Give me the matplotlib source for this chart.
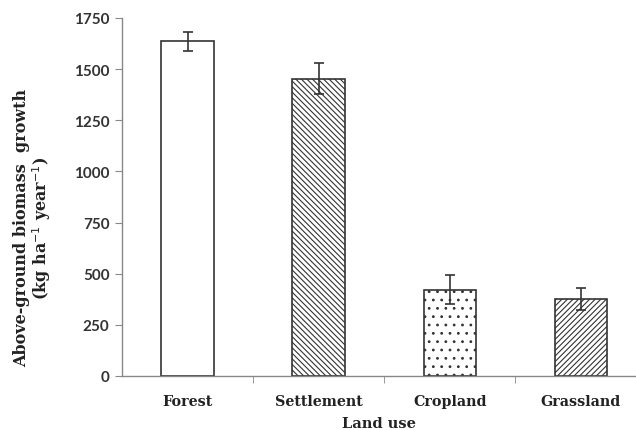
import matplotlib.pyplot as plt
import matplotlib as mpl

# data
landuse = ["Forest", "Settlement", "Cropland", "Grassland"]
biomass = [1636, 1453, 422, 376]
errors = [45, 75, 70, 55]
hatches = ["", "\\\\\\\\\\\\", "..", "//////"]
yticks = [0, 250, 500, 750, 1000, 1250, 1500, 1750]

mpl.rcParams['hatch.linewidth'] = 0.8
mpl.rcParams['hatch.color'] = '#333333'

fig = plt.figure(figsize=(6.36, 4.31), dpi=100)
ax = fig.add_axes([122 / 636, 1 - 377 / 431, (636 - 122) / 636, (377 - 19) / 431])

pos = list(range(len(landuse)))
bars = ax.bar(pos, biomass, width=0.4, color='white', edgecolor='#333333',
              linewidth=1.2, zorder=2)
for b, h in zip(bars, hatches):
    b.set_hatch(h)
ax.errorbar(pos, biomass, yerr=errors, fmt='none', ecolor='#333333',
            elinewidth=1.2, capsize=3.6, capthick=1.2, zorder=3)

ax.set_xlim(-0.5, 3.42)
ax.set_ylim(0, 1750)
ax.set_yticks(yticks)
ax.set_yticklabels([str(v) for v in yticks], fontfamily='Lato',
                   fontweight='bold', fontsize=11, color='#333333')
ax.set_xticks(pos)
ax.set_xticklabels(landuse, fontfamily='DejaVu Serif', fontweight='bold',
                   fontsize=10.3, color='#222222')
ax.tick_params(axis='x', length=0, pad=13)
ax.set_xticks([0.5, 1.5, 2.5], minor=True)
ax.tick_params(axis='x', which='minor', length=5, color='#888888')
ax.tick_params(axis='y', length=5, color='#888888', pad=4)

for s in ['top', 'right']:
    ax.spines[s].set_visible(False)
for s in ['left', 'bottom']:
    ax.spines[s].set_color('#888888')
    ax.spines[s].set_linewidth(1.0)

ax.set_xlabel("Land use", fontfamily='DejaVu Serif', fontweight='bold',
              fontsize=10.5, labelpad=6, color='#222222')
ax.set_ylabel("Above-ground biomass  growth\n(kg ha$^{-1}$ year$^{-1}$)",
              fontfamily='DejaVu Serif', fontweight='bold', fontsize=11.5,
              color='#222222', linespacing=1.0)
ax.yaxis.set_label_coords(-0.135, 0.416)

fig.savefig("out.png", dpi=100)
